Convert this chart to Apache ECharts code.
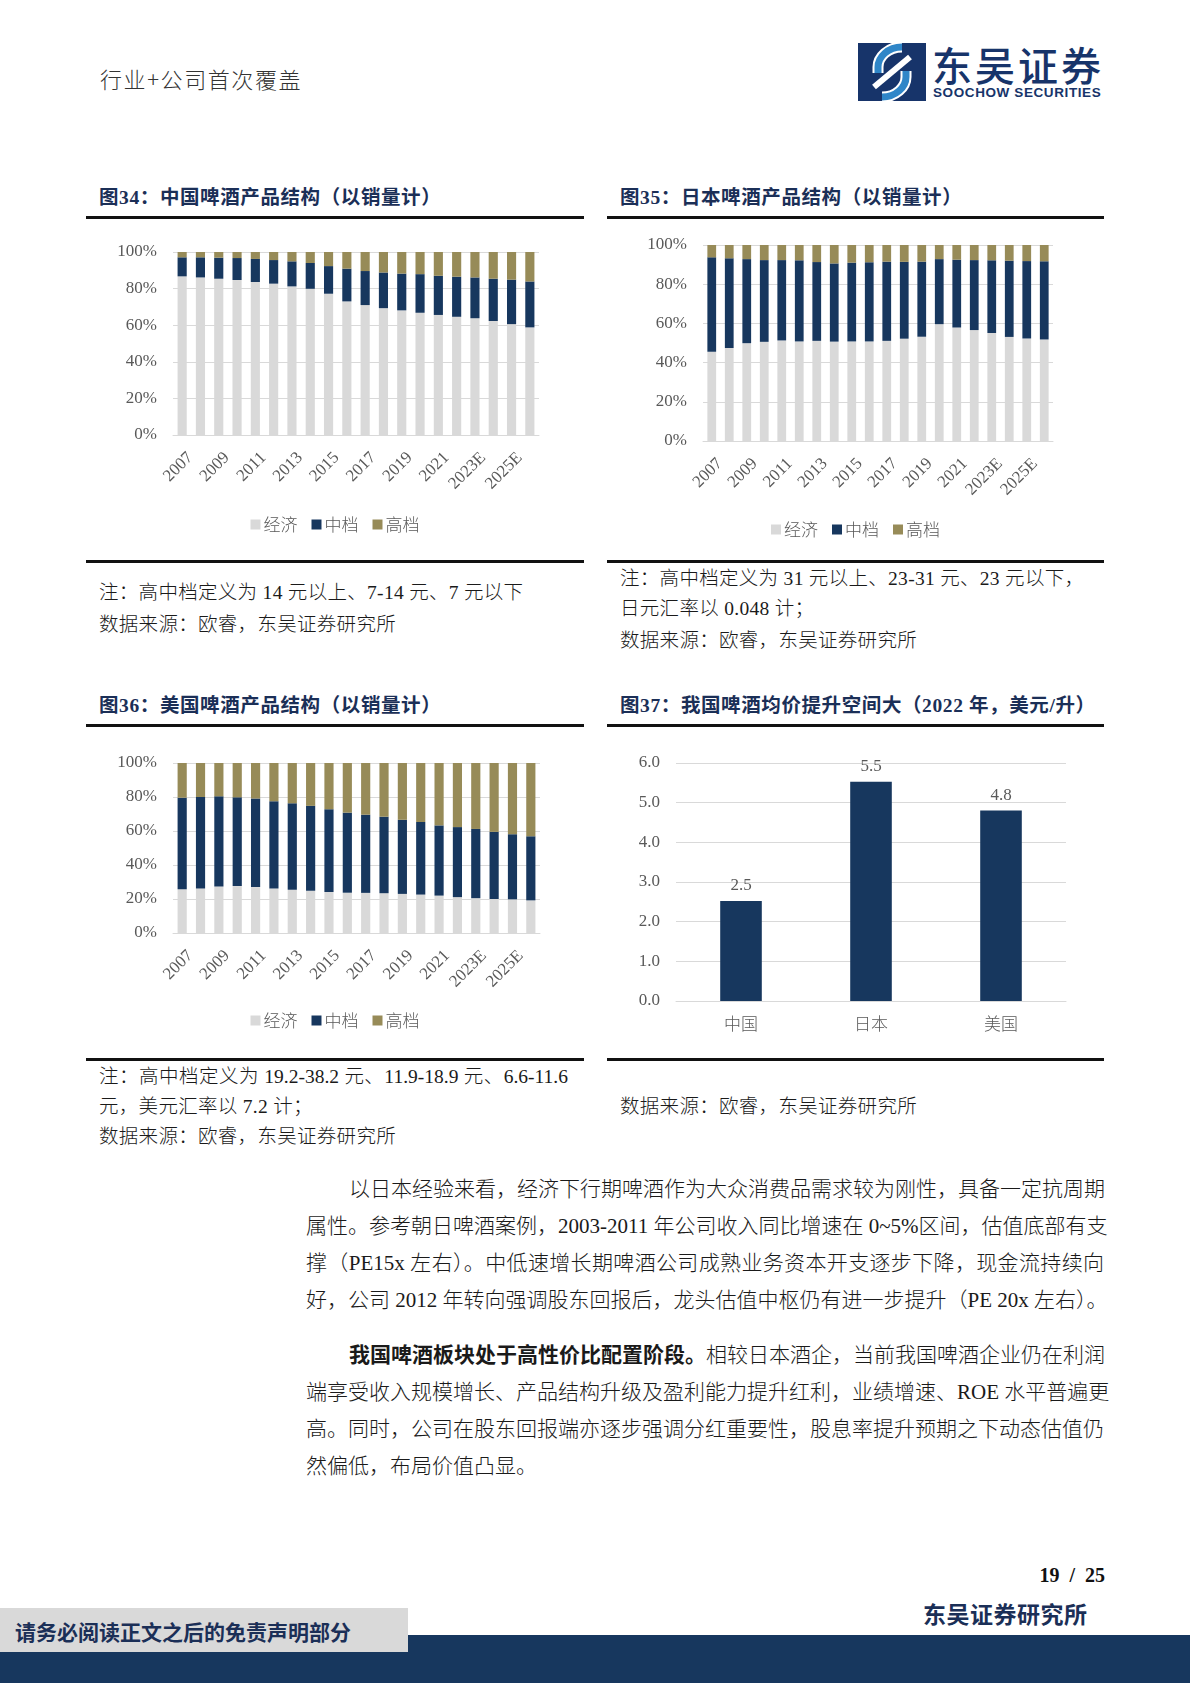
<!DOCTYPE html>
<html>
<head>
<meta charset="utf-8">
<script src="https://cdn.jsdelivr.net/npm/echarts@6/dist/echarts.min.js"></script>
<style>
  html, body { margin:0; padding:0; background:#fff; }
  body { width:1190px; height:1683px; position:relative; overflow:hidden;
         font-family:"Liberation Serif","Noto Sans CJK SC",serif; color:#1a1a1a; }
  .abs { position:absolute; white-space:nowrap; }
  .title { font-family:"Liberation Serif","Noto Sans CJK SC",serif; font-weight:700; font-size:19.5px; letter-spacing:0.6px; color:#1b2f57; line-height:24px; }
  .rule { position:absolute; height:3px; background:#111; }
  .note { font-size:19.5px; letter-spacing:0.3px; line-height:26px; font-weight:300; color:#1a1a1a; }
  .body { position:absolute; left:306px; width:798px; font-size:21px; line-height:37px; height:37px; font-weight:300;
          text-align:justify; text-align-last:justify; white-space:nowrap; color:#1a1a1a; }
  .chart { position:absolute; }
</style>
</head>
<body>
<!-- header -->
<div class="abs" style="left:100px;top:64px;font-family:'Noto Sans CJK SC';font-weight:300;font-size:22px;letter-spacing:1.6px;line-height:28px;color:#333;">行业+公司首次覆盖</div>
<svg class="abs" style="left:858px;top:43px;" width="68" height="58" viewBox="0 0 68 58">
  <rect x="0" y="0" width="68" height="58" fill="#17346a"/>
  <path d="M44 4 C30 4 20 14 20 24 L20 30" stroke="#fff" stroke-width="11" fill="none"/>
  <path d="M44 4 C30 4 20 14 20 24 L20 30" stroke="#2f86c8" stroke-width="7" fill="none"/>
  <path d="M24 54 C38 54 48 44 48 34 L48 28" stroke="#fff" stroke-width="11" fill="none"/>
  <path d="M24 54 C38 54 48 44 48 34 L48 28" stroke="#2f86c8" stroke-width="7" fill="none"/>
  <path d="M16 44 L52 14" stroke="#fff" stroke-width="6"/>
</svg>
<div class="abs" style="left:932px;top:40px;font-family:'Noto Sans CJK SC';font-weight:500;font-size:40px;line-height:48px;color:#17346a;letter-spacing:3px;">东吴证券</div>
<div class="abs" style="left:933px;top:85px;font-family:'Liberation Sans','Noto Sans';font-weight:700;font-size:13.5px;line-height:16px;color:#17346a;letter-spacing:0.6px;">SOOCHOW SECURITIES</div>

<!-- panel titles & rules -->
<div class="abs title" style="left:99px;top:186px;">图34：中国啤酒产品结构（以销量计）</div>
<div class="abs title" style="left:620px;top:186px;">图35：日本啤酒产品结构（以销量计）</div>
<div class="rule" style="left:86px;width:498px;top:216px;"></div>
<div class="rule" style="left:607px;width:497px;top:216px;"></div>

<div id="c34" class="chart" style="left:86px;top:225px;width:498px;height:330px;"></div>
<div id="c35" class="chart" style="left:607px;top:225px;width:497px;height:330px;"></div>

<div class="rule" style="left:86px;width:498px;top:560px;"></div>
<div class="rule" style="left:607px;width:497px;top:560px;"></div>

<div class="abs note" style="left:99px;top:580px;">注：高中档定义为 14 元以上、7-14 元、7 元以下</div>
<div class="abs note" style="left:99px;top:612px;">数据来源：欧睿，东吴证券研究所</div>
<div class="abs note" style="left:620px;top:566px;">注：高中档定义为 31 元以上、23-31 元、23 元以下，</div>
<div class="abs note" style="left:620px;top:596px;">日元汇率以 0.048 计；</div>
<div class="abs note" style="left:620px;top:628px;">数据来源：欧睿，东吴证券研究所</div>

<div class="abs title" style="left:99px;top:694px;">图36：美国啤酒产品结构（以销量计）</div>
<div class="abs title" style="left:620px;top:694px;">图37：我国啤酒均价提升空间大（2022 年，美元/升）</div>
<div class="rule" style="left:86px;width:498px;top:724px;"></div>
<div class="rule" style="left:607px;width:497px;top:724px;"></div>

<div id="c36" class="chart" style="left:86px;top:735px;width:498px;height:320px;"></div>
<div id="c37" class="chart" style="left:607px;top:735px;width:497px;height:320px;"></div>

<div class="rule" style="left:86px;width:498px;top:1058px;"></div>
<div class="rule" style="left:607px;width:497px;top:1058px;"></div>

<div class="abs note" style="left:99px;top:1064px;width:469px;text-align:justify;text-align-last:justify;letter-spacing:0;">注：高中档定义为 19.2-38.2 元、11.9-18.9 元、6.6-11.6</div>
<div class="abs note" style="left:99px;top:1094px;">元，美元汇率以 7.2 计；</div>
<div class="abs note" style="left:99px;top:1124px;">数据来源：欧睿，东吴证券研究所</div>
<div class="abs note" style="left:620px;top:1094px;">数据来源：欧睿，东吴证券研究所</div>

<!-- body text -->
<div class="body" style="top:1171px;padding-left:43px;width:755px;">以日本经验来看，经济下行期啤酒作为大众消费品需求较为刚性，具备一定抗周期</div>
<div class="body" style="top:1208px;">属性。参考朝日啤酒案例，2003-2011 年公司收入同比增速在 0~5%区间，估值底部有支</div>
<div class="body" style="top:1245px;">撑（PE15x 左右）。中低速增长期啤酒公司成熟业务资本开支逐步下降，现金流持续向</div>
<div class="body" style="top:1282px;">好，公司 2012 年转向强调股东回报后，龙头估值中枢仍有进一步提升（PE 20x 左右）。</div>

<div class="body" style="top:1337px;padding-left:43px;width:755px;"><b style="font-weight:700;">我国啤酒板块处于高性价比配置阶段。</b>相较日本酒企，当前我国啤酒企业仍在利润</div>
<div class="body" style="top:1374px;">端享受收入规模增长、产品结构升级及盈利能力提升红利，业绩增速、ROE 水平普遍更</div>
<div class="body" style="top:1411px;">高。同时，公司在股东回报端亦逐步强调分红重要性，股息率提升预期之下动态估值仍</div>
<div class="body" style="top:1448px;text-align-last:left;">然偏低，布局价值凸显。</div>

<!-- footer -->
<div class="abs" style="right:85px;top:1561px;font-family:'Liberation Serif';font-weight:700;font-size:20px;line-height:28px;color:#111;">19&nbsp;&nbsp;/&nbsp;&nbsp;25</div>
<div class="abs" style="left:0;top:1635px;width:1190px;height:48px;background:#17375e;"></div>
<div class="abs" style="left:0;top:1608px;width:408px;height:44px;background:#d9d9d9;"></div>
<div class="abs" style="left:15px;top:1616px;font-family:'Noto Sans CJK SC';font-weight:700;font-size:21px;line-height:30px;color:#1b2f57;">请务必阅读正文之后的免责声明部分</div>
<div class="abs" style="left:923px;top:1598px;font-family:'Noto Sans CJK SC';font-weight:700;font-size:23px;letter-spacing:0.5px;line-height:30px;color:#1b2f57;">东吴证券研究所</div>

<script>
// ---------- data ----------
const years = ['2007','2008','2009','2010','2011','2012','2013','2014','2015','2016',
               '2017','2018','2019','2020','2021','2022','2023E','2024E','2025E','2026E'];
const seriesNames = ['经济','中档','高档'];

const cnEcon = [86.7,86.1,85.4,84.7,83.6,82.7,81.2,79.9,77.2,73.0,71.0,69.3,68.1,66.8,65.6,64.6,63.8,62.3,60.6,58.8];
const cnMid  = [10.4,11.0,11.5,12.0,12.6,12.9,13.7,14.1,15.1,17.9,18.6,19.5,20.1,21.1,21.4,21.9,22.3,23.1,24.3,25.1];
const cnHigh = [2.9,2.9,3.1,3.3,3.8,4.4,5.1,6.0,7.7,9.1,10.4,11.2,11.8,12.1,13.0,13.5,13.9,14.6,15.1,16.1];

const jpEcon = [45.5,47.5,49.9,50.6,51.3,50.8,51.1,50.7,50.8,50.8,51.1,52.2,53.2,59.6,57.9,56.6,55.1,53.1,52.3,51.8];
const jpMid  = [48.2,45.7,42.9,41.7,41.0,41.4,40.2,39.9,40.2,40.4,40.4,39.2,38.3,33.2,34.6,35.7,37.1,38.9,39.5,39.9];
const jpHigh = [6.3,6.8,7.2,7.7,7.7,7.8,8.7,9.4,9.0,8.8,8.5,8.6,8.5,7.2,7.5,7.7,7.8,8.0,8.2,8.3];

const usEcon = [25.8,26.2,27.4,27.6,27.0,26.2,25.4,24.9,24.1,23.7,23.6,23.4,23.0,22.6,22.0,21.1,20.5,20.0,19.8,19.2];
const usMid  = [53.8,53.8,53.0,52.2,52.1,51.3,50.9,49.9,48.7,47.1,46.0,45.0,43.6,42.7,41.3,41.2,40.7,39.5,38.3,37.7];
const usHigh = [20.4,20.0,19.6,20.2,20.9,22.5,23.7,25.2,27.2,29.2,30.4,31.6,33.4,34.7,36.7,37.7,38.8,40.5,41.9,43.1];

const priceCountries = ['中国','日本','美国'];
const priceValues = [2.52,5.53,4.80];

// ---------- styles ----------
const C_ECON = '#d9d9d9', C_MID = '#17375e', C_HIGH = '#978b58';
const AX = '#595959';
const NUMFONT = 'Liberation Serif';
const CJKFONT = 'Noto Sans CJK SC';

function stackChart(id, econ, mid, high, grid, legendTop) {
  const ch = echarts.init(document.getElementById(id), null, {renderer:'canvas'});
  const mk = (name, data, color) => ({
    name, type:'bar', stack:'s', data, barWidth:'50%',
    itemStyle:{color}, emphasis:{disabled:true}, animation:false
  });
  ch.setOption({
    animation:false,
    grid,
    legend:{
      top:legendTop, left:'center', icon:'rect', itemWidth:10, itemHeight:10, itemGap:14,
      textStyle:{fontFamily:CJKFONT, fontSize:17, color:AX, fontWeight:300, padding:[0,0,0,-2]},
      data:seriesNames
    },
    xAxis:{
      type:'category', data:years,
      axisLine:{lineStyle:{color:'#d9d9d9'}}, axisTick:{show:false},
      axisLabel:{interval:1, rotate:45, fontFamily:NUMFONT, fontSize:17, color:AX, margin:12,
                 verticalAlign:'top', padding:[3,0,0,0]}
    },
    yAxis:{
      type:'value', min:0, max:100, interval:20,
      axisLine:{show:false}, axisTick:{show:false},
      splitLine:{lineStyle:{color:'#d9d9d9'}},
      axisLabel:{formatter:'{value}%', fontFamily:NUMFONT, fontSize:17, color:AX, margin:16}
    },
    series:[mk(seriesNames[0], econ, C_ECON), mk(seriesNames[1], mid, C_MID), mk(seriesNames[2], high, C_HIGH)]
  });
}

stackChart('c34', cnEcon, cnMid, cnHigh, {left:87, right:45, top:27, bottom:120}, 286);
stackChart('c35', jpEcon, jpMid, jpHigh, {left:96, right:51, top:20, bottom:114}, 291);
stackChart('c36', usEcon, usMid, usHigh, {left:87, right:44, top:28, bottom:122}, 272);

(function(){
  const ch = echarts.init(document.getElementById('c37'));
  ch.setOption({
    animation:false,
    grid:{left:69, right:38, top:28, bottom:54},
    xAxis:{
      type:'category', data:priceCountries,
      axisLine:{lineStyle:{color:'#d9d9d9'}}, axisTick:{show:false},
      axisLabel:{fontFamily:CJKFONT, fontSize:17, fontWeight:300, color:AX, margin:14}
    },
    yAxis:{
      type:'value', min:0, max:6, interval:1,
      axisLine:{show:false}, axisTick:{show:false},
      splitLine:{lineStyle:{color:'#d9d9d9'}},
      axisLabel:{formatter:v=>v.toFixed(1), fontFamily:NUMFONT, fontSize:17, color:AX, margin:16}
    },
    series:[{
      type:'bar', data:priceValues, barWidth:'32%',
      itemStyle:{color:C_MID},
      label:{show:true, position:'top', distance:7, formatter:p=>p.value.toFixed(1),
             fontFamily:NUMFONT, fontSize:17, color:AX}
    }]
  });
})();
</script>
</body>
</html>
